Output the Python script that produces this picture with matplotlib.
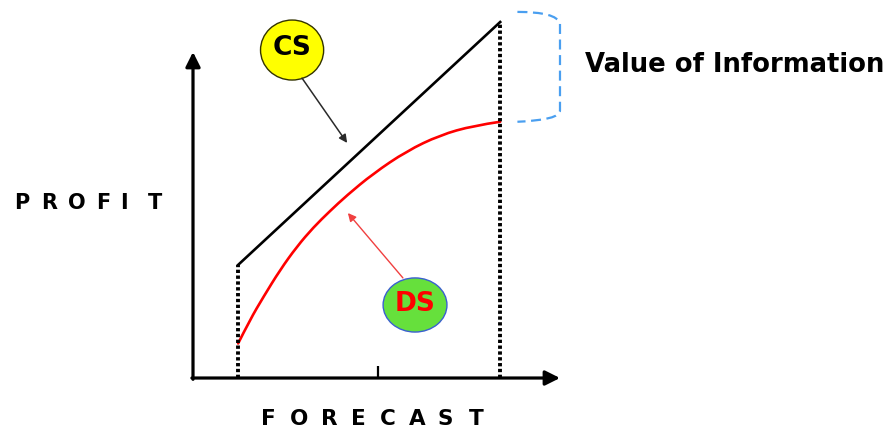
import matplotlib
matplotlib.use("Agg")
import matplotlib.pyplot as plt
from matplotlib.patches import Ellipse, PathPatch
from matplotlib.path import Path

# --- data -------------------------------------------------------------
forecast_lo = 1.23     # lower end of the forecast range
forecast_hi = 8.37     # upper end of the forecast range
forecast_mid = 5.04    # middle tick on the forecast axis

cs_x = [1.23, 8.37]
cs_y = [3.47, 10.92]

ds_x = [1.23, 1.55, 1.92, 2.37, 2.83, 3.28, 3.73, 4.19, 4.91, 5.82, 6.73, 7.64, 8.37]
ds_y = [1.06, 1.78, 2.49, 3.31, 4.03, 4.62, 5.12, 5.60, 6.27, 6.96, 7.45, 7.74, 7.86]

x_label = "FORECAST"
y_label = "PROFIT"
gap_label = "Value of Information"

# --- figure -----------------------------------------------------------
W, H = 893, 432
fig = plt.figure(figsize=(W / 100, H / 100), dpi=100)
ax = fig.add_axes([0, 0, 1, 1])
ax.set_xlim(-5.259, 19.074)
ax.set_ylim(-1.656, 11.595)
ax.axis("off")

FONT = "DejaVu Sans"


def smooth_path(xs, ys):
    """Quadratic Bezier path through the point list (midpoint scheme)."""
    pts = list(zip(xs, ys))
    verts = [pts[0]]
    codes = [Path.MOVETO]
    for i in range(1, len(pts) - 1):
        mid = ((pts[i][0] + pts[i + 1][0]) / 2, (pts[i][1] + pts[i + 1][1]) / 2)
        if i == len(pts) - 2:
            mid = pts[i + 1]
        verts += [pts[i], mid]
        codes += [Path.CURVE3, Path.CURVE3]
    return Path(verts, codes)


# axes with arrowheads
arrow_kw = dict(arrowstyle="-|>", lw=2.3, color="black",
                mutation_scale=22, shrinkA=0, shrinkB=0)
ax.annotate("", xy=(10.0, 0), xytext=(-0.03, 0), arrowprops=arrow_kw)
ax.annotate("", xy=(0, 10.0), xytext=(0, -0.04), arrowprops=arrow_kw)

# middle tick on the forecast axis
ax.plot([forecast_mid, forecast_mid], [0, 0.37], color="black", lw=1.6,
        solid_capstyle="butt")

# dotted range bounds
dot_kw = dict(color="black", lw=2.8, linestyle=(0, (0.85, 0.65)))
ax.plot([forecast_lo, forecast_lo], [0, cs_y[0]], **dot_kw)
ax.plot([forecast_hi, forecast_hi], [0, cs_y[-1]], **dot_kw)

# curves
ax.plot(cs_x, cs_y, color="black", lw=1.9, solid_joinstyle="miter")
ax.add_patch(PathPatch(smooth_path(ds_x, ds_y), facecolor="none",
                       edgecolor="#ff0000", lw=1.9, capstyle="round"))

# bubbles
cs_c = (2.70, 10.06)
ds_c = (6.05, 2.24)
ax.add_patch(Ellipse(cs_c, 1.72, 1.84, facecolor="#ffff00",
                     edgecolor="#333300", lw=1.0, zorder=3))
ax.text(cs_c[0], cs_c[1] + 0.06, "CS", family=FONT, weight="bold",
        fontsize=19, color="black", ha="center", va="center", zorder=4)
ax.add_patch(Ellipse(ds_c, 1.74, 1.66, facecolor="#66e03c",
                     edgecolor="#3a5fd0", lw=1.0, zorder=3))
ax.text(ds_c[0], ds_c[1] + 0.02, "DS", family=FONT, weight="bold",
        fontsize=19, color="#ff0000", ha="center", va="center", zorder=4)

# pointer arrows
ax.annotate("", xy=(4.20, 7.21), xytext=(2.97, 9.20),
            arrowprops=dict(arrowstyle="-|>", lw=1.1, color="#2a2a2a",
                            mutation_scale=12, shrinkA=0, shrinkB=0))
ax.annotate("", xy=(4.22, 5.06), xytext=(5.72, 3.07),
            arrowprops=dict(arrowstyle="-|>", lw=1.0, color="#f04040",
                            mutation_scale=12, shrinkA=0, shrinkB=0))

# bracket spanning the gap between the two curves
bx0 = forecast_hi + 0.47
bx1 = 10.0
btop = cs_y[-1] + 0.31
bbot = ds_y[-1]
verts = [(bx0, btop), (bx1 - 0.1, btop), (bx1, btop - 0.35),
         (bx1, bbot + 0.35),
         (bx1, bbot + 0.05), (bx0, bbot)]
codes = [Path.MOVETO, Path.CURVE3, Path.CURVE3, Path.LINETO,
         Path.CURVE3, Path.CURVE3]
ax.add_patch(PathPatch(Path(verts, codes), facecolor="none",
                       edgecolor="#4a9ff0", lw=1.6, linestyle=(0, (4.5, 2.5))))
ax.text(10.68, 9.60, gap_label, family=FONT, weight="bold", fontsize=18.6,
        color="black", ha="left", va="center")

# spaced axis titles
for ch, px in zip(y_label, [22, 49, 77, 103, 124, 155]):
    ax.text(px / W, 1 - 203 / H, ch, transform=ax.transAxes, family=FONT,
            weight="bold", fontsize=15, ha="center", va="center")
for ch, px in zip(x_label, [268, 299, 329, 358, 388, 417, 445, 476]):
    ax.text(px / W, 1 - 419 / H, ch, transform=ax.transAxes, family=FONT,
            weight="bold", fontsize=15.5, ha="center", va="center")

fig.savefig("out.png", dpi=100)
